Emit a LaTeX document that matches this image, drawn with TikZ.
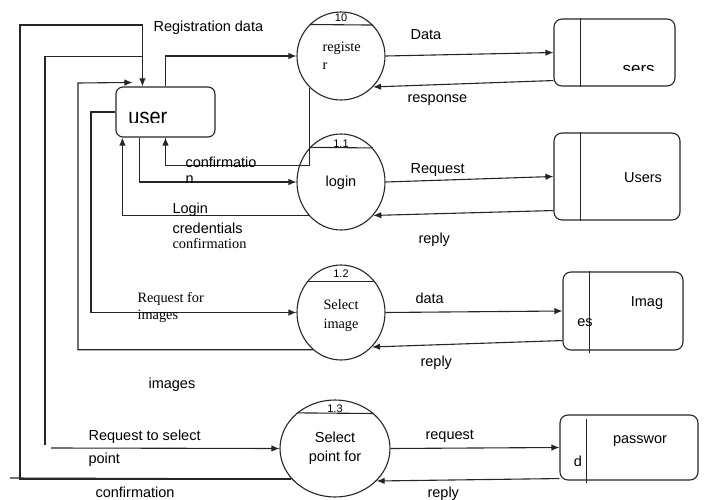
\documentclass[tikz,border=0pt]{standalone}
\usepackage{fontspec}
\setmainfont{Liberation Serif}
\setsansfont{Liberation Sans}
\usetikzlibrary{arrows.meta,shapes.geometric}
\begin{document}
\begin{tikzpicture}[x=1pt,y=-1pt,
  line width=1.1pt, draw=black!85,
  flow/.style={-{Latex[length=8pt,width=6.5pt]}},
  proc/.style={draw,ellipse,inner sep=0pt},
  store/.style={draw,rectangle,rounded corners=8pt,inner sep=0pt},
  ss/.style={font=\sffamily\fontsize{14.5}{16}\selectfont,inner sep=0pt},
  rm/.style={font=\rmfamily\fontsize{14.3}{16}\selectfont,inner sep=0pt},
  num/.style={font=\sffamily\fontsize{11}{12}\selectfont,inner sep=0pt}]
\useasboundingbox (0,0) rectangle (707,500);

% external entity
\node[store, rounded corners=7pt, minimum width=99pt, minimum height=50pt] (user) at (165.5,112) {};
\begin{scope}
  \clip (110,100) rectangle (210,122.5);
  \node[font=\sffamily\fontsize{23}{24}\selectfont, inner sep=0pt, anchor=base west, xscale=0.87] (usertxt) at (128,124.5) {user};
\end{scope}

% processes
\node[proc, minimum width=88pt, minimum height=88pt] (reg) at (341,56) {};
\node[proc, minimum width=88pt, minimum height=96pt] (login) at (341,182) {};
\node[proc, minimum width=88pt, minimum height=95pt] (selimg) at (341,312.5) {};
\node[proc, minimum width=110pt, minimum height=97pt] (selpt) at (335,448.5) {};
\draw (reg.135.2) -- (reg.44.8);
\draw (login.132.5) -- (login.47.5);
\draw (selimg.137) -- (selimg.43);
\draw (selpt.137.5) -- (selpt.42.5);
\node[num] (n10) at (341,18) {10};
\node[num] (n11) at (341,144) {1.1};
\node[num] (n12) at (341,274) {1.2};
\node[num] (n13) at (335,409) {1.3};
\node[rm, anchor=west] (regt1) at (322,48) {registe};
\node[rm, anchor=west] (regt2) at (322,66) {r};
\node[ss] (logint) at (341,183) {login};
\node[rm] (selimgt1) at (341,305) {Select};
\node[rm] (selimgt2) at (341,325) {image};
\node[ss] (selptt1) at (335,437) {Select};
\node[ss] (selptt2) at (335,458) {point for};

% data stores
\node[store, minimum width=121pt, minimum height=67pt] (sers) at (614.5,52.5) {};
\draw ([xshift=27pt]sers.north west) -- ([xshift=27pt]sers.south west);
\begin{scope}
  \clip (600,40) rectangle (680,70.5);
  \node[font=\sffamily\fontsize{17}{19}\selectfont, inner sep=0pt, anchor=base west] (serst) at (622,74.5) {sers};
\end{scope}
\node[store, minimum width=126pt, minimum height=87pt] (users) at (617,176.5) {};
\draw ([xshift=27pt]users.north west) -- ([xshift=27pt]users.south west);
\node[ss] (userst) at (643,178) {Users};
\node[store, minimum width=120pt, minimum height=78pt] (imag) at (623,311) {};
\draw ([xshift=27pt]imag.north west) -- ([xshift=27pt,yshift=-2pt]imag.south west);
\node[ss] (imagt1) at (647,303) {Imag};
\node[ss] (imagt2) at (585,323) {es};
\node[store, minimum width=138pt, minimum height=65pt] (pass) at (629,447.5) {};
\draw ([xshift=27pt,yshift=-5pt]pass.north west) -- ([xshift=27pt,yshift=-2pt]pass.south west);
\node[ss] (passt1) at (640,441) {passwor};
\begin{scope}
  \clip (570,455) rectangle (586,470);
  \node[ss, anchor=base] (passt2) at (578,466) {d};
\end{scope}

% named bend points
\coordinate (L1) at (20,25);
\coordinate (B0) at (10,478);
\coordinate (L2b) at (45,445);
\coordinate (R2) at (51,448);
\coordinate (L3) at (78,83);
\coordinate (L4) at (91,312.5);

% left-side flows
\draw[flow] (user.north) |- (reg.west);
\draw[flow] (selpt.215) -| (L1) -| ([xshift=27pt]user.north west);
\draw (selpt.215) -- (B0);
\draw ([xshift=27pt,yshift=30pt]user.north west) -| (L2b);
\draw[flow] (R2) -- (selpt.west);
\draw[flow] (selimg.233) -| (L3) -- ([xshift=17pt,yshift=4pt]user.north west);
\draw[flow] (user.west) -| (L4) -- (selimg.west);
\draw[flow] ([xshift=24pt]user.south west) |- (login.west);
\draw[flow] (reg.225) |- ([yshift=-28pt]user.south) -- (user.south);
\draw[flow] (login.226) -| ([xshift=7pt]user.south west);

% right-side flows
\draw[flow] (reg.east) -- (sers.west);
\draw[flow] ([yshift=6pt]sers.south west) -- (reg.-44);
\draw[flow] (login.east) -- (users.west);
\draw[flow] ([yshift=10pt]users.south west) -- (login.-46);
\draw[flow] (selimg.east) -- (imag.west);
\draw[flow] ([yshift=10pt]imag.south west) -- (selimg.-48);
\draw[flow] (selpt.east) -- (pass.west);
\draw[flow] ([yshift=2pt]pass.south west) -- (selpt.-38);

% labels
\node[ss, anchor=west] (lregdata) at (153,28) {Registration data};
\node[ss, anchor=west] (ldata) at (410,35) {Data};
\node[ss, anchor=west] (lresp) at (407,100) {response};
\node[ss, anchor=west] (lconf1) at (185,162) {confirmatio};
\node[ss, anchor=west] (lconf2) at (185,180) {n};
\node[ss, anchor=west] (lreq) at (410,170) {Request};
\node[ss, anchor=west] (llogin1) at (172,210) {Login};
\node[ss, anchor=west] (llogin2) at (172,228) {credentials};
\node[rm, anchor=west] (llogin3) at (172,244) {confirmation};
\node[ss, anchor=west] (lreply1) at (418,240) {reply};
\node[rm, anchor=west] (lrfi1) at (137,299) {Request for};
\node[rm, anchor=west] (lrfi2) at (137,316) {images};
\node[ss, anchor=west] (ldata2) at (415,298) {data};
\node[ss, anchor=west] (lreply2) at (420,363) {reply};
\node[ss, anchor=west] (limages) at (148,385) {images};
\node[ss, anchor=west] (lrts1) at (88,437) {Request to select};
\node[ss, anchor=west] (lrts2) at (88,460) {point};
\node[ss, anchor=west] (lreq2) at (425,436) {request};
\node[ss, anchor=west] (lconf3) at (95,492) {confirmation};
\node[ss, anchor=west] (lreply3) at (427,494) {reply};
\end{tikzpicture}
\end{document}
